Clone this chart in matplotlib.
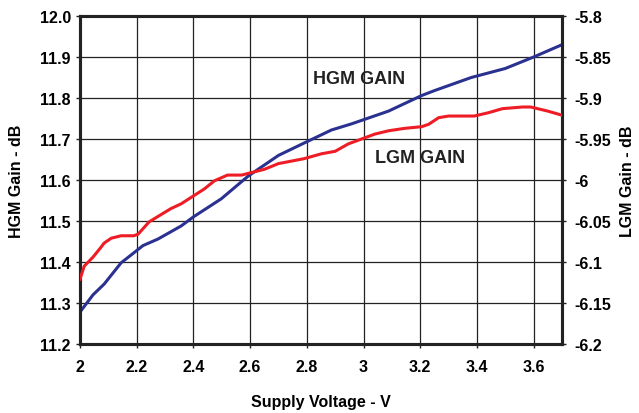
import matplotlib
matplotlib.use("Agg")
import matplotlib.pyplot as plt

plt.rcParams['font.family'] = ['Liberation Sans', 'DejaVu Sans']
plt.rcParams['font.weight'] = 'bold'

# HGM gain (left axis, dB)
hgm_v = [2.0, 2.046, 2.085, 2.145, 2.18, 2.222, 2.275, 2.357, 2.40, 2.498, 2.594,
         2.70, 2.79, 2.887, 2.958, 3.088, 3.205, 3.25, 3.38, 3.50, 3.60, 3.70]
hgm_gain = [11.278, 11.32, 11.346, 11.398, 11.417, 11.44, 11.456, 11.488, 11.51, 11.554, 11.61,
            11.66, 11.69, 11.722, 11.737, 11.768, 11.806, 11.818, 11.85, 11.872, 11.90, 11.93]

# LGM gain (right axis, dB)
lgm_v = [2.0, 2.015, 2.046, 2.074, 2.085, 2.11, 2.145, 2.19, 2.205, 2.244, 2.32, 2.357,
         2.438, 2.474, 2.52, 2.57, 2.604, 2.65, 2.70, 2.745, 2.79, 2.852, 2.90, 2.946,
         3.04, 3.088, 3.145, 3.205, 3.23, 3.265, 3.30, 3.39, 3.44, 3.49, 3.56, 3.59, 3.65, 3.70]
lgm_gain = [-6.121, -6.105, -6.094, -6.082, -6.077, -6.071, -6.068, -6.068, -6.066, -6.051, -6.035, -6.029,
            -6.011, -6.001, -5.994, -5.994, -5.991, -5.987, -5.98, -5.977, -5.974, -5.968, -5.965, -5.956,
            -5.944, -5.94, -5.937, -5.935, -5.932, -5.924, -5.922, -5.922, -5.918, -5.913, -5.911, -5.911, -5.916, -5.921]

x_ticks = [2, 2.2, 2.4, 2.6, 2.8, 3, 3.2, 3.4, 3.6]
x_labels = ['2', '2.2', '2.4', '2.6', '2.8', '3', '3.2', '3.4', '3.6']
left_ticks = [11.2, 11.3, 11.4, 11.5, 11.6, 11.7, 11.8, 11.9, 12.0]
right_ticks = [-6.2, -6.15, -6.1, -6.05, -6.0, -5.95, -5.9, -5.85, -5.8]
right_labels = ['-6.2', '-6.15', '-6.1', '-6.05', '-6', '-5.95', '-5.9', '-5.85', '-5.8']

blue = '#2B3190'
red = '#EE1C25'

fig = plt.figure(figsize=(6.39, 4.14), dpi=100)
ax = fig.add_axes([80 / 639, 1 - 345 / 414, (562 - 80) / 639, (345 - 17) / 414])
ax2 = ax.twinx()

ax.plot(hgm_v, hgm_gain, color=blue, lw=2.2, zorder=3)
ax2.plot(lgm_v, lgm_gain, color=red, lw=2.2, zorder=3)

ax.set_xlim(2, 3.7)
ax.set_ylim(11.2, 12.0)
ax2.set_ylim(-6.2, -5.8)

ax.set_xticks(x_ticks)
ax.set_xticklabels(x_labels)
ax.set_yticks(left_ticks)
ax.set_yticklabels(['%.1f' % t for t in left_ticks])
ax2.set_yticks(right_ticks)
ax2.set_yticklabels(right_labels)

ax.grid(True, color='#222222', lw=0.9)
ax.set_axisbelow(True)

for a in (ax, ax2):
    for s in a.spines.values():
        s.set_linewidth(2.2)
        s.set_color('#222222')
    a.tick_params(labelsize=11.5, length=3, width=1, color='#222222')

ax.tick_params(axis='x', pad=8)
ax2.tick_params(axis='y', pad=6)

ax.set_xlabel('Supply Voltage - V', fontsize=11.5, fontweight='bold', labelpad=14)
ax.set_ylabel('HGM Gain - dB', fontsize=11.5, fontweight='bold', labelpad=11)
ax2.set_ylabel('LGM Gain - dB', fontsize=11.5, fontweight='bold', labelpad=6)

ax.text(2.822, 11.848, 'HGM GAIN', fontsize=13, fontweight='bold', color='#222222', va='center')
ax.text(3.04, 11.655, 'LGM GAIN', fontsize=13, fontweight='bold', color='#222222', va='center')

fig.savefig('out.png', dpi=100)
